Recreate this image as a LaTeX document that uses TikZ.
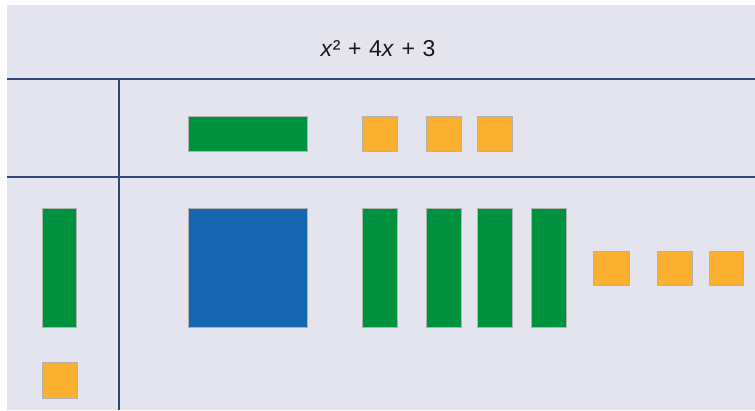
\documentclass[tikz,border=0pt]{standalone}
\usepackage{fontspec}
\setmainfont{Liberation Sans}
\begin{document}
\begin{tikzpicture}[x=1pt,y=-1pt,
  tile/.style={draw=black!30,line width=0.6pt,inner sep=0pt,outer sep=0pt},
  xsq/.style={tile,fill=tileblue},
  xbar/.style={tile,fill=tilegreen},
  unit/.style={tile,fill=tileorange},
  rule/.style={draw=rulenavy,line width=2pt}]
\definecolor{bg}{HTML}{E4E4EF}
\definecolor{tileblue}{HTML}{1565B0}
\definecolor{tilegreen}{HTML}{00913F}
\definecolor{tileorange}{HTML}{FBB12F}
\definecolor{rulenavy}{HTML}{2E4775}
\useasboundingbox (0,0) rectangle (755,410);
\fill[white] (0,0) rectangle (755,410);
\fill[bg] (7,5) rectangle (755,410);
% grid lines
\coordinate (h1l) at (7,79);
\coordinate (h1r) at (755,79);
\coordinate (h2l) at (7,177);
\coordinate (h2r) at (755,177);
\coordinate (vt) at (119,79);
\coordinate (vb) at (119,410);
\draw[rule] (h1l) -- (h1r);
\draw[rule] (h2l) -- (h2r);
\draw[rule] (vt) -- (vb);
% title
\node[text=black!90] (title) at (378,49) {\fontsize{23}{26}\selectfont\textit{x}²\hspace{0.33em}+\hspace{0.33em}4\textit{x}\hspace{0.33em}+\hspace{0.33em}3};
% top row
\filldraw[xbar] (188,116) rectangle (307,151);
\filldraw[unit] (362,116) rectangle (397,151);
\filldraw[unit] (426,116) rectangle (461,151);
\filldraw[unit] (477,116) rectangle (512,151);
% left column
\filldraw[xbar] (42,208) rectangle (76,327);
\filldraw[unit] (42,362) rectangle (77,398);
% product area
\filldraw[xsq] (188,208) rectangle (307,327);
\filldraw[xbar] (362,208) rectangle (397,327);
\filldraw[xbar] (426,208) rectangle (461,327);
\filldraw[xbar] (477,208) rectangle (512,327);
\filldraw[xbar] (531,208) rectangle (566,327);
\filldraw[unit] (593,251) rectangle (629,285);
\filldraw[unit] (657,251) rectangle (692,285);
\filldraw[unit] (709,251) rectangle (743,285);
\end{tikzpicture}
\end{document}
